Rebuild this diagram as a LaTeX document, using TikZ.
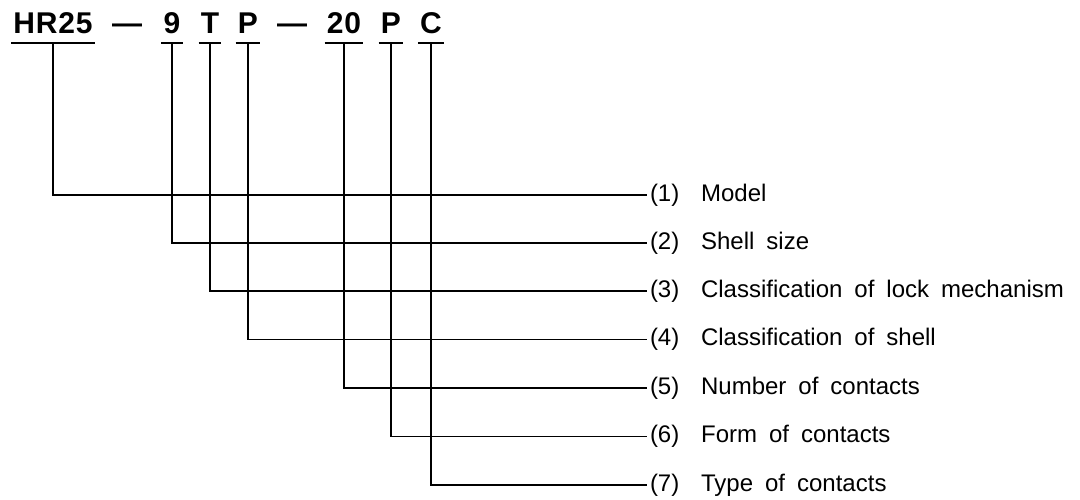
\documentclass[tikz,border=0pt]{standalone}
\usepackage{fontspec}
\usetikzlibrary{positioning}
\newfontfamily\codefont{Liberation Sans}[LetterSpace=3]
\newfontfamily\labelfont{Liberation Sans}[WordSpace=1.8,Ligatures=NoCommon]

\begin{document}
\begin{tikzpicture}[x=1pt,y=-1pt,line width=1.5pt]
\tikzstyle{every node}+=[inner sep=0pt]
\tikzstyle{code}=[font=\codefont\bfseries\fontsize{30}{32}\selectfont,anchor=base,inner xsep=1.5pt]
\tikzstyle{uline}=[line width=2pt]
\tikzstyle{num}=[font=\labelfont\fontsize{24}{28}\selectfont,anchor=west,outer sep=3pt]
\tikzstyle{lbl}=[font=\labelfont\fontsize{24}{28}\selectfont]
\useasboundingbox (0,0) rectangle (1080,499);
\coordinate (ul) at (0,43);
\node[code] (model) at (53,33) {HR25};
\node[code] (d1) at (127,33) {—};
\node[code] (size) at (172,33) {9};
\node[code] (lock) at (210,33) {T};
\node[code] (shell) at (248,33) {P};
\node[code] (d2) at (292,33) {—};
\node[code] (count) at (344,33) {20};
\node[code] (form) at (391,33) {P};
\node[code] (type) at (431,33) {C};
\draw[uline] (model.west |- ul) -- (model.east |- ul);
\draw[uline] (size.west |- ul) -- (size.east |- ul);
\draw[uline] (lock.west |- ul) -- (lock.east |- ul);
\draw[uline] (shell.west |- ul) -- (shell.east |- ul);
\draw[uline] (count.west |- ul) -- (count.east |- ul);
\draw[uline] (form.west |- ul) -- (form.east |- ul);
\draw[uline] (type.west |- ul) -- (type.east |- ul);
\node[num] (n1) at (647,195) {(1)};
\node[num] (n2) at (647,243) {(2)};
\node[num] (n3) at (647,291) {(3)};
\node[num] (n4) at (647,339.5) {(4)};
\node[num] (n5) at (647,388) {(5)};
\node[num] (n6) at (647,436.5) {(6)};
\node[num] (n7) at (647,485) {(7)};
\node[lbl,base right=18pt of n1] (t1) {Model};
\node[lbl,base right=18pt of n2] (t2) {Shell size};
\node[lbl,base right=18pt of n3] (t3) {Classification of lock mechanism};
\node[lbl,base right=18pt of n4] (t4) {Classification of shell};
\node[lbl,base right=18pt of n5] (t5) {Number of contacts};
\node[lbl,base right=18pt of n6] (t6) {Form of contacts};
\node[lbl,base right=18pt of n7] (t7) {Type of contacts};
\draw (model.south |- ul) |- (n1.west);
\draw (size.south |- ul) |- (n2.west);
\draw (lock.south |- ul) |- (n3.west);
\draw (shell.south |- ul) |- (n4.west);
\draw (count.south |- ul) |- (n5.west);
\draw (form.south |- ul) |- (n6.west);
\draw (type.south |- ul) |- (n7.west);
\end{tikzpicture}
\end{document}
